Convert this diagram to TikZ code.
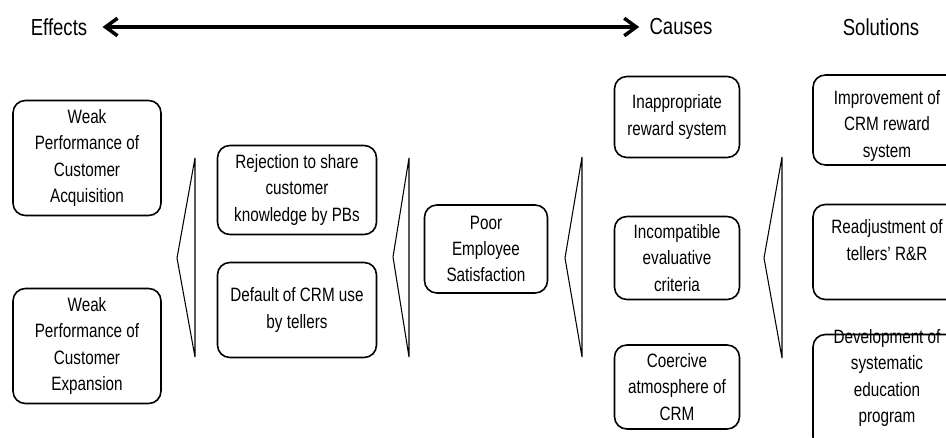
\documentclass[tikz,border=0pt]{standalone}
\usepackage{fontspec}
\setmainfont{Liberation Sans}[FakeStretch=0.84]
\newfontfamily\boxfont{Liberation Sans}[FakeStretch=0.79]
\newfontfamily\headfont{Liberation Sans}[FakeStretch=0.8]
\usepackage{tikz}
\usetikzlibrary{arrows.meta}
\usetikzlibrary{calc}
\tikzset{cbox/.style={rectangle,rounded corners=7pt,draw=black,line width=0.9pt,align=center,inner sep=1pt,font=\boxfont\fontsize{11}{15}\selectfont}}
\tikzset{ctext/.style={align=center,inner sep=0pt,font=\boxfont\fontsize{11}{15}\selectfont}}
\tikzset{head/.style={inner sep=0pt,font=\headfont\fontsize{13.2}{15}\selectfont}}
\tikzset{wedge/.style={draw=black,line width=0.6pt,line join=miter}}
\tikzset{bigarrow/.style={line width=2pt,{Straight Barb[length=2.4mm,width=3.5mm]}-{Straight Barb[length=2.4mm,width=3.5mm]},shorten <=0.3cm,shorten >=0.2cm}}

\begin{document}
\begin{tikzpicture}[x=0.02cm,y=-0.02cm]
\useasboundingbox (0,0) rectangle (946,438);

\node[head] (effects) at (59,27) {Effects};
\node[head] (causes) at (681,27) {Causes};
\node[head] (solutions) at (881,27) {Solutions};
\draw[bigarrow] (effects) -- (causes);

% effects
\node[cbox, minimum width=2.96cm, minimum height=2.3cm] (acq) at (87,158) {Weak\\Performance of\\Customer\\Acquisition};
\node[cbox, minimum width=2.96cm, minimum height=2.3cm] (exp) at (87,346) {Weak\\Performance of\\Customer\\Expansion};
\draw[wedge] (195,158) -- (177,258) -- (195,357) -- cycle;

\node[cbox, minimum width=3.18cm, minimum height=1.78cm] (share) at (297,190) {Rejection to share\\customer\\knowledge by PBs};
\node[cbox, minimum width=3.18cm, minimum height=1.9cm] (tellers) at (297,310) {Default of CRM use\\by tellers};
\draw[wedge] (409,158) -- (393,257) -- (409,357) -- cycle;

\node[cbox, minimum width=2.46cm, minimum height=1.76cm] (poor) at (486,249) {Poor\\Employee\\Satisfaction};
\draw[wedge] (582,157) -- (565,258) -- (582,357) -- cycle;

% causes
\node[cbox, minimum width=2.5cm, minimum height=1.62cm] (reward) at (677,117) {Inappropriate\\reward system};
\node[cbox, minimum width=2.5cm, minimum height=1.66cm] (criteria) at (677,258) {Incompatible\\evaluative\\criteria};
\node[cbox, minimum width=2.5cm, minimum height=1.68cm] (coercive) at (677,387) {Coercive\\atmosphere of\\CRM};
\draw[wedge] (782,157) -- (764,258) -- (782,358) -- cycle;

% solutions
\node[cbox, minimum width=2.96cm, minimum height=1.8cm] (improve) at (887,120) {};
\node[ctext] (improvetext) at ($(improve)+(0,6)$) {Improvement of\\CRM reward\\system};
\node[cbox, minimum width=2.96cm, minimum height=1.9cm] (readjust) at (887,252) {};
\node[ctext] (readjusttext) at ($(readjust)+(0,-12)$) {Readjustment of\\tellers’ R\&R};
\node[cbox, minimum width=2.96cm, minimum height=2.3cm] (program) at (887,392) {};
\node[ctext] (programtext) at ($(program)+(0,-14)$) {Development of\\systematic\\education\\program};
\end{tikzpicture}
\end{document}
